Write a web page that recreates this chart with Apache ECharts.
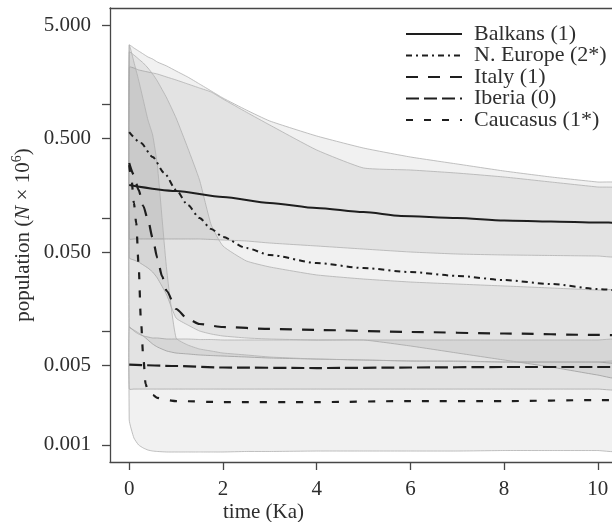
<!DOCTYPE html>
<html><head><meta charset="utf-8">
<script src="https://cdn.jsdelivr.net/npm/echarts@6/dist/echarts.min.js"></script>
<style>html,body{margin:0;padding:0;background:#fff}#c{width:612px;height:522px}</style>
</head><body><div id="c"></div>
<script>
// ---- data ----
const seriesNames = ['Balkans (1)', 'N. Europe (2*)', 'Italy (1)', 'Iberia (0)', 'Caucasus (1*)'];
const xTicks = [0, 2, 4, 6, 8, 10];
const yTickValues = [5, 1, 0.5, 0.1, 0.05, 0.01, 0.005, 0.001];
const yLabelValues = [5, 0.5, 0.05, 0.005, 0.001];

const balkansT = [0, 1, 2, 3, 4, 5, 5.8, 7, 8, 9, 10, 10.5];
const balkansV = [0.1947, 0.1724, 0.1526, 0.1352, 0.1221, 0.1125, 0.1038, 0.0997, 0.0948, 0.0929, 0.0910, 0.0905];
const nEuropeT = [0, 0.25, 0.5, 0.75, 1, 1.25, 1.5, 1.75, 2, 2.5, 3, 4, 5, 6, 7, 8, 9, 10, 10.5];
const nEuropeV = [0.570, 0.456, 0.3436, 0.248, 0.176, 0.1297, 0.0997, 0.0798, 0.0678, 0.0542, 0.0471, 0.040, 0.0361, 0.0333, 0.0308, 0.0283, 0.0261, 0.0236, 0.0227];
const italyT = [0, 0.1, 0.2, 0.3, 0.4, 0.5, 0.6, 0.7, 0.8, 1, 1.25, 1.5, 2, 3, 4, 6, 8, 10, 10.5];
const italyV = [0.304, 0.2384, 0.176, 0.1272, 0.0957, 0.0664, 0.0443, 0.0307, 0.02266, 0.01574, 0.01285, 0.01161, 0.01092, 0.0105, 0.01028, 0.00987, 0.00957, 0.00929, 0.00925];
const iberiaT = [0, 1, 2, 4, 6, 8, 10, 10.5];
const iberiaV = [0.0051, 0.00495, 0.0048, 0.00475, 0.0048, 0.00485, 0.00485, 0.00485];
const caucasusT = [0, 0.05, 0.1, 0.15, 0.2, 0.25, 0.3, 0.35, 0.4, 0.5, 0.6, 0.8, 1, 2, 4, 6, 8, 10, 10.5];
const caucasusV = [0.292, 0.2156, 0.1351, 0.0901, 0.0384, 0.01259, 0.00594, 0.00344, 0.00298, 0.00275, 0.00259, 0.00248, 0.00243, 0.00238, 0.00238, 0.00243, 0.00243, 0.00248, 0.00248];

// confidence bands
const bandT = [0, 0.1, 0.2, 0.3, 0.4, 0.5, 0.6, 0.8, 1, 1.25, 1.5, 1.75, 2, 2.5, 3, 4, 5, 6, 7, 8, 9, 10, 10.5];
const nEuropeHi = [3.33, 3.136, 2.951, 2.777, 2.613, 2.508, 2.36, 2.177, 1.967, 1.74, 1.511, 1.311, 1.137, 0.891, 0.713, 0.526, 0.412, 0.3436, 0.298, 0.2586, 0.229, 0.2068, 0.1987];
const nEuropeLo = [0.01092, 0.01027, 0.00967, 0.0091, 0.00839, 0.00773, 0.00728, 0.00671, 0.00644, 0.00632, 0.00619, 0.00612, 0.00606, 0.00594, 0.00582, 0.0057, 0.00559, 0.00548, 0.00548, 0.00537, 0.00537, 0.00537, 0.00537];
const balkansHi = [2.13, 2.09, 2.01, 1.967, 1.927, 1.889, 1.851, 1.74, 1.64, 1.511, 1.393, 1.284, 1.115, 0.853, 0.657, 0.396, 0.275, 0.264, 0.248, 0.229, 0.2068, 0.1869, 0.1795];
const balkansLo = [0.0651, 0.0651, 0.0651, 0.0651, 0.0651, 0.0651, 0.0651, 0.0651, 0.0651, 0.0651, 0.0651, 0.0645, 0.0638, 0.0625, 0.060, 0.0565, 0.0531, 0.050, 0.048, 0.0471, 0.0466, 0.0461, 0.0461];
const italyHi = [2.891, 2.72, 2.508, 2.314, 2.09, 1.851, 1.605, 1.137, 0.758, 0.412, 0.2156, 0.0865, 0.0565, 0.0417, 0.0369, 0.0314, 0.0289, 0.0272, 0.0261, 0.0251, 0.0241, 0.0231, 0.02266];
const italyLo = [0.0443, 0.0425, 0.0408, 0.0384, 0.0361, 0.0333, 0.0295, 0.0209, 0.0131, 0.01137, 0.01007, 0.00947, 0.0091, 0.00874, 0.00856, 0.00839, 0.00839, 0.00743, 0.00644, 0.00559, 0.00485, 0.00412, 0.00388];
const iberiaHi = [0.01092, 0.01007, 0.00947, 0.0091, 0.00891, 0.00874, 0.00874, 0.00856, 0.00856, 0.00856, 0.00847, 0.00847, 0.00839, 0.00839, 0.00839, 0.00839, 0.00839, 0.00839, 0.00839, 0.00839, 0.00839, 0.00839, 0.00839];
const iberiaLo = [0.0031, 0.0031, 0.0031, 0.0031, 0.0031, 0.0031, 0.0031, 0.0031, 0.0031, 0.0031, 0.0031, 0.0031, 0.0031, 0.0031, 0.0031, 0.0031, 0.0031, 0.0031, 0.0031, 0.0031, 0.0031, 0.0031, 0.0031];
const caucasusHi = [3.33, 2.36, 1.64, 1.092, 0.728, 0.537, 0.292, 0.0347, 0.00874, 0.00758, 0.00699, 0.00671, 0.00644, 0.00619, 0.00594, 0.0057, 0.00559, 0.00548, 0.00542, 0.00537, 0.00537, 0.00537, 0.00537];
const caucasusLo = [0.00166, 0.00115, 0.000998, 0.000938, 0.0009, 0.000882, 0.000874, 0.000865, 0.000865, 0.000865, 0.000865, 0.000865, 0.000865, 0.000874, 0.000874, 0.000882, 0.000882, 0.000882, 0.000882, 0.000891, 0.000891, 0.000891, 0.000891];

// ---- chart ----
const FONT = 'Liberation Serif';
const TXT = '#2e2e2e';
const AX = '#474747';
const chart = echarts.init(document.getElementById('c'), null, { renderer: 'canvas' });

function band(name, hi, lo) {
  return {
    type: 'custom', name: name, coordinateSystem: 'cartesian2d', silent: true, z: 1,
    data: bandT.map((t, i) => [t, lo[i], hi[i]]),
    encode: { x: 0, y: [1, 2] },
    renderItem: function (params, api) {
      if (params.dataIndex !== 0) return null;
      const top = bandT.map((t, i) => api.coord([t, hi[i]]));
      const bot = bandT.map((t, i) => api.coord([t, lo[i]])).reverse();
      return {
        type: 'polygon',
        shape: { points: top.concat(bot), smooth: 0.15 },
        style: { fill: 'rgba(0,0,0,0.055)', stroke: '#b0b0b0', lineWidth: 0.8 }
      };
    }
  };
}
function line(name, ts, vs, dash, w) {
  return {
    type: 'line', name: name, z: 5, symbol: 'none', smooth: 0.25, smoothMonotone: 'x',
    data: ts.map((t, i) => [t, vs[i]]),
    lineStyle: { color: '#1e1e1e', width: w, type: dash },
    emphasis: { disabled: true }
  };
}
const axisText = { fontFamily: FONT, fontSize: 21, color: TXT };

chart.setOption({
  animation: false,
  backgroundColor: '#fff',
  grid: { left: 110, right: -6, top: 8, bottom: 60, outerBoundsMode: 'none', containLabel: false },
  legend: {
    data: seriesNames, orient: 'vertical', left: 400, top: 18,
    itemWidth: 56, itemHeight: 16, itemGap: -0.5, selectedMode: false,
    itemStyle: { opacity: 0 },
    textStyle: { fontFamily: FONT, fontSize: 22, color: TXT, lineHeight: 16, padding: [0, 0, 0, 7] }
  },
  xAxis: [{
    type: 'value', min: -0.41, max: 10.43, position: 'bottom',
    axisLine: { show: true, onZero: false, lineStyle: { color: AX, width: 1.3 } },
    axisTick: { show: true, length: 8, customValues: xTicks, lineStyle: { color: AX, width: 1.3 } },
    axisLabel: Object.assign({ customValues: xTicks, margin: 17 }, axisText),
    splitLine: { show: false },
    name: 'time (Ka)', nameLocation: 'middle', nameGap: 40, nameMoveOverlap: false,
    nameTextStyle: Object.assign({ padding: [0, 201, 0, 0] }, axisText)
  }, {
    type: 'value', min: -0.41, max: 10.43, position: 'top',
    axisLine: { show: true, onZero: false, lineStyle: { color: AX, width: 1.3 } },
    axisTick: { show: false }, axisLabel: { show: false }, splitLine: { show: false }
  }],
  yAxis: {
    type: 'log', logBase: 10, min: 0.000706, max: 7.06,
    axisLine: { show: true, onZero: false, lineStyle: { color: AX, width: 1.3 } },
    axisTick: { show: true, length: 8, customValues: yTickValues, lineStyle: { color: AX, width: 1.3 } },
    axisLabel: Object.assign({ customValues: yLabelValues, margin: 19, formatter: v => Number(v).toFixed(3) }, axisText),
    splitLine: { show: false }, minorTick: { show: false },
    name: '{a|population (}{i|N}{a| × 10}{s|6}{a|)}',
    nameLocation: 'middle', nameGap: 74, nameRotate: 90, nameMoveOverlap: false,
    nameTextStyle: {
      fontFamily: FONT, fontSize: 21, color: TXT,
      rich: {
        a: { fontFamily: FONT, fontSize: 21, color: TXT },
        i: { fontFamily: FONT, fontSize: 21, color: TXT, fontStyle: 'italic' },
        s: { fontFamily: FONT, fontSize: 14, color: TXT, padding: [0, 0, 12, 0] }
      }
    }
  },
  series: [
    band('bandNE', nEuropeHi, nEuropeLo),
    band('bandBK', balkansHi, balkansLo),
    band('bandIT', italyHi, italyLo),
    band('bandIB', iberiaHi, iberiaLo),
    band('bandCA', caucasusHi, caucasusLo),
    line(seriesNames[0], balkansT, balkansV, 'solid', 2),
    line(seriesNames[1], nEuropeT, nEuropeV, [6, 4, 2, 4], 2),
    line(seriesNames[2], italyT, italyV, [12, 10], 2.2),
    line(seriesNames[3], iberiaT, iberiaV, [13, 5], 2.2),
    line(seriesNames[4], caucasusT, caucasusV, [7, 11], 2.2)
  ]
});
</script></body></html>
